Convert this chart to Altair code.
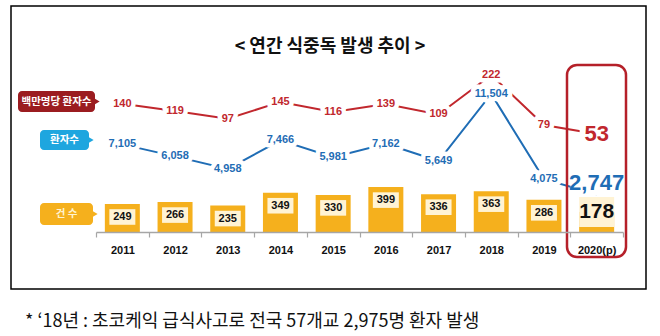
import altair as alt
import pandas as pd

# ---------------- data ----------------
years = ["2011", "2012", "2013", "2014", "2015", "2016", "2017", "2018", "2019", "2020(p)"]
cases = [249, 266, 235, 349, 330, 399, 336, 363, 286, 178]
patients = [7105, 6058, 4958, 7466, 5981, 7162, 5649, 11504, 4075, 2747]
per_million = [140, 119, 97, 145, 116, 139, 109, 222, 79, 53]
series_names = ["백만명당 환자수", "환자수", "건  수"]
title_text = "< 연간 식중독 발생 추이 >"
footnote_text = "* ‘18년 : 초코케익 급식사고로 전국 57개교 2,975명 환자 발생"
highlight_year = "2020(p)"

df = pd.DataFrame({"year": years, "cases": cases, "patients": patients, "per_million": per_million})
df["patients_label"] = [f"{v:,}" for v in patients]
df["pm_label"] = [str(v) for v in per_million]
df["cases_label"] = [str(v) for v in cases]

KR = "Noto Sans CJK KR"
NUM = "Liberation Sans"
RED = "#c1272d"
DARKRED = "#9b1c20"
BLUE = "#1f6db5"
CYAN = "#1ea6df"
ORANGE = "#f5b01d"
CREAM = "#fff3d4"


def rect_path(aspect):
    return f"M-1,-{aspect}L1,-{aspect}L1,{aspect}L-1,{aspect}Z"


is_hi = alt.datum.year == highlight_year
not_hi = alt.datum.year != highlight_year

x_enc = alt.X(
    "year:N",
    sort=years,
    scale=alt.Scale(type="band", domain=years, range=[96, 623], paddingInner=0, paddingOuter=0),
    axis=alt.Axis(
        title=None, orient="bottom", offset=-104, labelAngle=0, labelFont=NUM, labelFontSize=11,
        labelFontWeight="bold", labelColor="#111", labelPadding=7, domainColor="#a6a6a6",
        domainWidth=1.5, tickColor="#a6a6a6", tickWidth=1.2, tickSize=5, tickBand="extent",
        grid=False, zindex=1,
    ),
)
bar_y = alt.Y("cases:Q", scale=alt.Scale(domain=[0, 400], range=[232, 187], nice=False, zero=False), axis=None)
red_y = alt.Y("per_million:Q", scale=alt.Scale(domain=[0, 250], range=[152.6, 65.2], nice=False, zero=False), axis=None)
blue_y = alt.Y("patients:Q", scale=alt.Scale(domain=[0, 12000], range=[225.8, 88.3], nice=False, zero=False), axis=None)

base = alt.Chart(df)


def one(label=""):
    return alt.Chart(pd.DataFrame({"t": [label]}))


layers = []

# frame
layers.append(one().mark_rect(fill="transparent", stroke="#000", strokeWidth=1.5).encode(
    x=alt.value(11), x2=alt.value(646), y=alt.value(6), y2=alt.value(289)))

# title & footnote
layers.append(one(title_text).mark_text(font=KR, fontSize=18, fontWeight="bold", color="#111").encode(
    x=alt.value(330), y=alt.value(47), text="t:N"))
layers.append(one(footnote_text).mark_text(font=KR, fontSize=18, color="#111", align="left").encode(
    x=alt.value(25), y=alt.value(322), text="t:N"))

# series tags
tags = [
    (series_names[0], DARKRED, 18, 95, 91, 112, "#ffffff"),
    (series_names[1], CYAN, 40, 89, 130, 150, "#ffffff"),
    (series_names[2], ORANGE, 40, 93, 203, 225, "#fff3d0"),
]
for name, col, x1, x2, y1, y2, tcol in tags:
    layers.append(one(name).mark_rect(color=col, cornerRadius=4).encode(
        x=alt.value(x1), x2=alt.value(x2), y=alt.value(y1), y2=alt.value(y2)))
    layers.append(one(name).mark_point(shape="triangle-right", filled=True, color=col, size=70, opacity=1).encode(
        x=alt.value(x2 + 1), y=alt.value((y1 + y2) / 2)))
    layers.append(one(name).mark_text(font=KR, fontSize=10.5, fontWeight="bold", color=tcol).encode(
        x=alt.value((x1 + x2) / 2), y=alt.value((y1 + y2) / 2), text="t:N"))

# bars
layers.append(base.mark_bar(width=35, color=ORANGE).encode(x=x_enc, y=bar_y))
layers.append(base.transform_filter(not_hi).mark_point(
    shape=rect_path(0.6), size=676, filled=True, color=CREAM, opacity=1, strokeWidth=0, yOffset=13
).encode(x=x_enc, y=bar_y))
layers.append(base.transform_filter(is_hi).mark_point(
    shape=rect_path(0.857), size=1225, filled=True, color=CREAM, opacity=1, strokeWidth=0
).encode(x=x_enc, y=bar_y))
layers.append(base.transform_filter(not_hi).mark_text(
    font=NUM, fontSize=11, fontWeight="bold", color="#111", dy=13
).encode(x=x_enc, y=bar_y, text="cases_label:N"))
layers.append(base.transform_filter(is_hi).mark_text(
    font=NUM, fontSize=21, fontWeight="bold", color="#111"
).encode(x=x_enc, y=bar_y, text="cases_label:N"))

# lines
layers.append(base.mark_line(color=RED, strokeWidth=2).encode(x=x_enc, y=red_y))
layers.append(base.mark_line(color=BLUE, strokeWidth=2).encode(x=x_enc, y=blue_y))

# white gaps behind labels
halo = dict(font=NUM, fontWeight="bold", fill="white", stroke="white", strokeWidth=9, strokeJoin="round")
layers.append(base.transform_filter(not_hi).mark_text(fontSize=11, **halo).encode(
    x=x_enc, y=red_y, text="pm_label:N"))
layers.append(base.transform_filter(not_hi).mark_text(fontSize=11, **halo).encode(
    x=x_enc, y=blue_y, text="patients_label:N"))
layers.append(base.transform_filter(is_hi).mark_point(
    shape=rect_path(0.76), size=34 * 34, filled=True, color="white", opacity=1, strokeWidth=0
).encode(x=x_enc, y=red_y))
layers.append(base.transform_filter(is_hi).mark_point(
    shape=rect_path(0.46), size=52 * 52, filled=True, color="white", opacity=1, strokeWidth=0, yOffset=-11
).encode(x=x_enc, y=blue_y))

# labels
layers.append(base.transform_filter(not_hi).mark_text(font=NUM, fontSize=11, fontWeight="bold", color=RED).encode(
    x=x_enc, y=red_y, text="pm_label:N"))
layers.append(base.transform_filter(not_hi).mark_text(font=NUM, fontSize=11, fontWeight="bold", color=BLUE).encode(
    x=x_enc, y=blue_y, text="patients_label:N"))
layers.append(base.transform_filter(is_hi).mark_text(font=NUM, fontSize=22, fontWeight="bold", color=RED).encode(
    x=x_enc, y=red_y, text="pm_label:N"))
layers.append(base.transform_filter(is_hi).mark_text(font=NUM, fontSize=22, fontWeight="bold", color=BLUE, dy=-11).encode(
    x=x_enc, y=blue_y, text="patients_label:N"))

# highlight box for preliminary year
layers.append(one().mark_rect(fill="transparent", stroke="#b52029", strokeWidth=2.5, cornerRadius=10).encode(
    x=alt.value(567), x2=alt.value(626), y=alt.value(65), y2=alt.value(257)))

chart = (
    alt.layer(*layers)
    .resolve_scale(y="independent")
    .properties(width=660, height=336, autosize=alt.AutoSizeParams(type="none"), padding=0, background="white")
    .configure_view(stroke=None)
)

chart.save("out.html", embed_options={"renderer": "svg", "actions": False})
